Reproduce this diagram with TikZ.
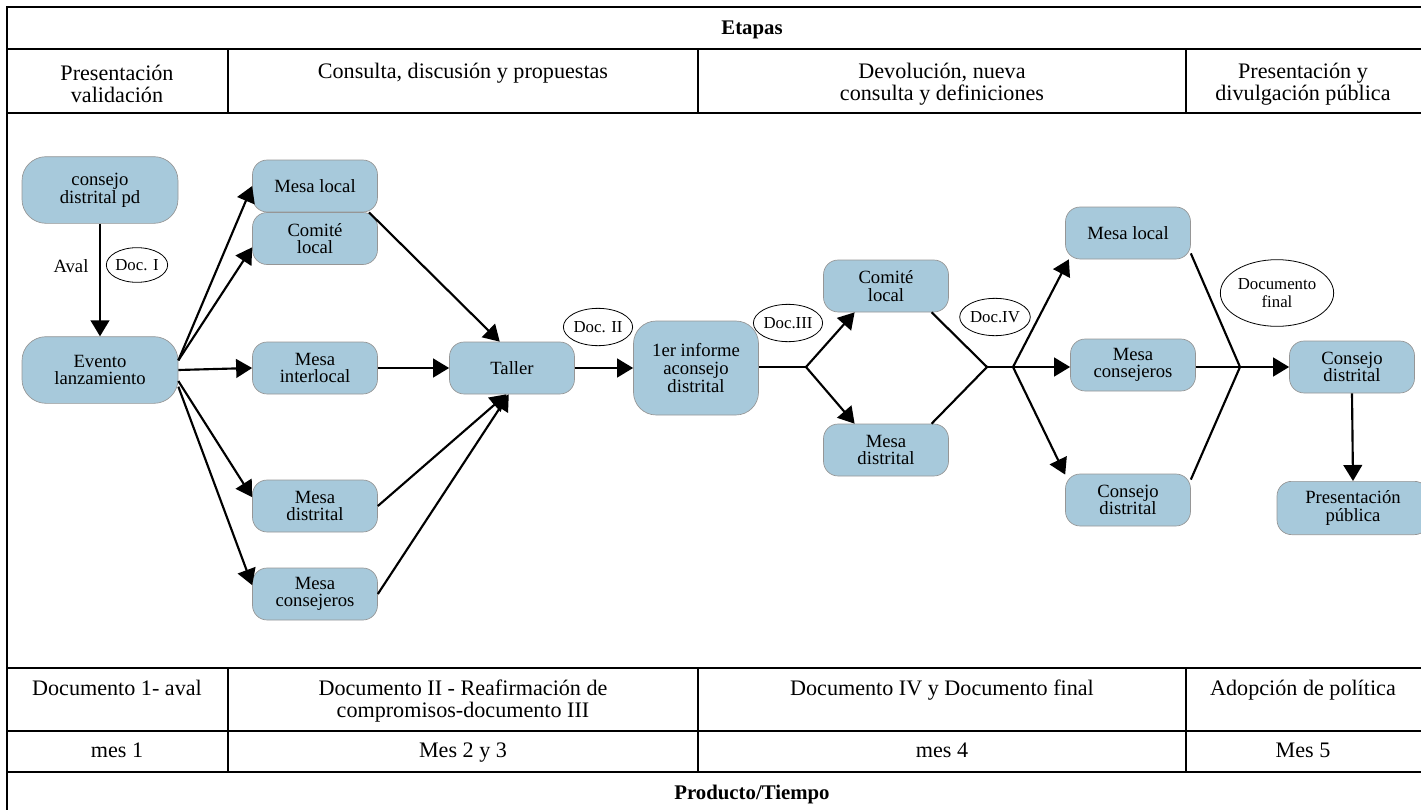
\documentclass[tikz,border=0pt]{standalone}
\usepackage{fontspec}
\setmainfont{Liberation Serif}
\usetikzlibrary{arrows.meta,shapes.geometric,calc}
\definecolor{boxblue}{RGB}{167,201,219}
\definecolor{boxedge}{RGB}{150,150,150}
\newcommand\tabfnt{\fontsize{16.6}{16.5}\selectfont}
\newcommand\boldfnt{\fontsize{15.6}{16}\selectfont\bfseries}
\newcommand\nodefnt{\fontsize{14}{13.3}\selectfont}
\newcommand\docfnt{\fontsize{12.6}{13.7}\selectfont}
\begin{document}
\begin{tikzpicture}[x=0.75pt,y=-0.75pt,
  tabline/.style={line width=1.5pt},
  tabtext/.style={align=center,font=\tabfnt,inner sep=0pt},
  oneline/.style={text height=8.5pt,text depth=0pt},
  box/.style={draw=boxedge,line width=0.5pt,fill=boxblue,rounded corners=11pt,align=center,
    minimum width=93.75pt,minimum height=39pt,inner sep=1pt,font=\nodefnt},
  bigbox/.style={box,rounded corners=18pt,minimum width=117pt,minimum height=50pt},
  docel/.style={draw,ellipse,line width=0.6pt,inner sep=0pt,font=\docfnt,align=center},
  arr/.style={-{Triangle[length=12pt,width=14pt]},line width=1.6pt},
  ln/.style={line width=1.6pt}]
\useasboundingbox (0,0) rectangle (1421,810);
% ---- table ----
\draw[tabline] (7,810) -- (7,7) -- (1421,7);
\foreach \yy in {49,113,668,731,772}{\draw[tabline] (7,\yy) -- (1421,\yy);}
\foreach \xx in {228,698,1186}{
  \draw[tabline] (\xx,49) -- (\xx,113);
  \draw[tabline] (\xx,668) -- (\xx,772);}
\node[tabtext,oneline,font=\boldfnt] (etapas) at (752,29) {Etapas};
\node[tabtext] (h1) at (117,84) {Presentación\\validación};
\node[tabtext,oneline] (h2) at (463,73) {Consulta, discusión y propuestas};
\node[tabtext] (h3) at (942,84) {Devolución, nueva\\consulta y definiciones};
\node[tabtext] (h4) at (1303,84) {Presentación y\\divulgación pública};
\node[tabtext,oneline] (p1) at (117,690) {Documento 1- aval};
\node[tabtext] (p2) at (463,701) {Documento II - Reafirmación de\\compromisos-documento III};
\node[tabtext,oneline] (p3) at (942,690) {Documento IV y Documento final};
\node[tabtext,oneline] (p4) at (1303,690) {Adopción de política};
\node[tabtext,oneline] (t1) at (117,752) {mes 1};
\node[tabtext,oneline] (t2) at (463,752) {Mes 2 y 3};
\node[tabtext,oneline] (t3) at (942,752) {mes 4};
\node[tabtext,oneline] (t4) at (1303,752) {Mes 5};
\node[tabtext,oneline,font=\boldfnt] (prod) at (752,794) {Producto/Tiempo};
% ---- nodes ----
\node[bigbox] (cpd) at (100,190) {consejo\\distrital pd};
\node[bigbox] (ev) at (100,370) {Evento\\lanzamiento};
\node[tabtext,oneline,font=\nodefnt] (aval) at (71,267) {Aval};
\node[docel,minimum width=41pt,minimum height=26pt] (d1) at (137,265) {Doc. I};
\node[box] (ml1) at (315,186) {Mesa local};
\node[box] (cl1) at (315,238.5) {Comité\\local};
\node[box] (mi) at (315,368) {Mesa\\interlocal};
\node[box] (md1) at (315,506) {Mesa\\distrital};
\node[box] (mc1) at (315,594) {Mesa\\consejeros};
\node[box] (ta) at (512,368) {Taller};
\node[docel,minimum width=49pt,minimum height=28pt] (d2) at (598,327) {Doc. II};
\node[box,rounded corners=17pt,minimum height=70.5pt] (inf) at (696,368) {1er informe\\aconsejo\\distrital};
\node[docel,minimum width=49pt,minimum height=28pt] (d3) at (788,323) {Doc.III};
\node[box] (cl2) at (886,286) {Comité\\local};
\node[box] (md2) at (886,450) {Mesa\\distrital};
\node[docel,minimum width=48pt,minimum height=28pt] (d4) at (995,317) {Doc.IV};
\node[box] (ml2) at (1128,233) {Mesa local};
\node[box] (mcs) at (1133,365) {Mesa\\consejeros};
\node[box] (cd2) at (1128,500) {Consejo\\distrital};
\node[docel,minimum width=85pt,minimum height=50pt] (df) at (1277,293) {Documento\\final};
\node[box] (cdr) at (1352,367) {Consejo\\distrital};
\node[box,minimum width=114pt,minimum height=40pt] (pp) at (1353,508) {Presentación\\pública};
\coordinate (b1) at (806,367);
\coordinate (m1) at (987,367);
\coordinate (b2) at (1013,367);
\coordinate (m2) at (1240,367);
% ---- connectors ----
\draw[arr] (cpd.south) -- (ev.north);
\draw[arr] (ev.7) -- (ml1.west);
\draw[arr] (ev.7) -- (cl1.188);
\draw[arr] (ev.east) -- (mi.west);
\draw[arr] (ev.352) -- (md1.172);
\draw[arr] (ev.348) -- (mc1.172);
\draw[arr] (ml1.334) -- (ta.115);
\draw[arr] (mi.east) -- (ta.west);
\draw[arr] (md1.east) -- (ta.258);
\draw[arr] (mc1.east) -- (ta.263);
\draw[arr] (ta.east) -- (inf.west);
\draw[ln] (inf.east |- b1) -- (b1);
\draw[arr] (b1) -- (cl2.220);
\draw[arr] (b1) -- (md2.140);
\draw[ln] (cl2.330) -- (m1);
\draw[ln] (md2.30) -- (m1);
\draw[ln] (m1) -- (b2);
\draw[arr] (b2) -- (ml2.204);
\draw[arr] (b2) -- (b2 -| mcs.west);
\draw[arr] (b2) -- (cd2.158);
\draw[ln] (ml2.342) -- (m2);
\draw[ln] (mcs.east |- m2) -- (m2);
\draw[ln] (cd2.18) -- (m2);
\draw[arr] (m2) -- (m2 -| cdr.west);
\draw[arr] (cdr.south) -- (pp.north);
\end{tikzpicture}
\end{document}
